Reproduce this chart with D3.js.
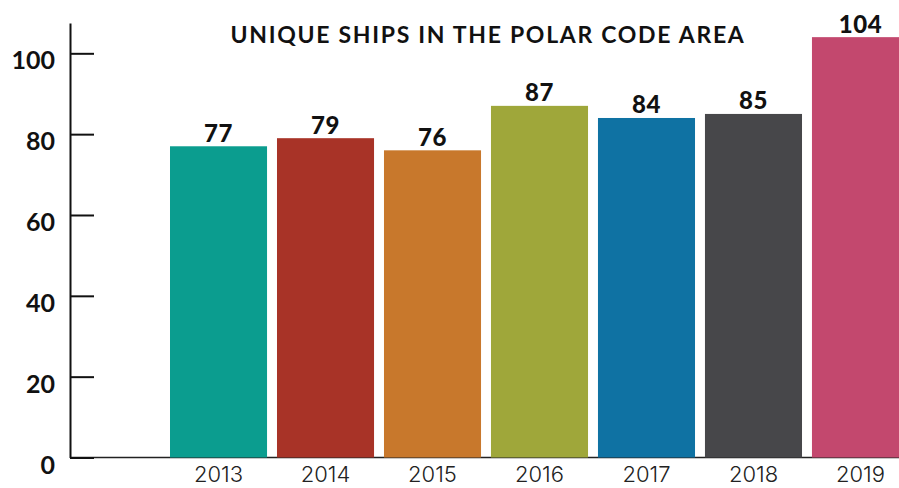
<!DOCTYPE html>
<html>
<head>
<meta charset="utf-8">
<script src="https://cdn.jsdelivr.net/npm/d3@7"></script>
<style>
  html, body { margin: 0; padding: 0; background: #ffffff; }
  svg { display: block; }
</style>
</head>
<body>
<svg id="chart" width="899" height="488"></svg>
<script>
// Unique ships recorded in the Polar Code area, per year
const years = ["2013", "2014", "2015", "2016", "2017", "2018", "2019"];
const shipCounts = [77, 79, 76, 87, 84, 85, 104];
const barColors = ["#0b9d8f", "#a83327", "#c8782c", "#9fa73a", "#0f72a3", "#47474a", "#c3486e"];
const yTicks = [0, 20, 40, 60, 80, 100];
const chartTitle = "UNIQUE SHIPS IN THE POLAR CODE AREA";

const svg = d3.select("#chart");
const W = 899, H = 488;

const axisX = 70;
const baseY = 457.5;

const y = d3.scaleLinear().domain([0, 107.5]).range([baseY, 23]);
const x = d3.scaleBand()
  .domain(years)
  .range([165, 914])
  .paddingInner(0.093)
  .paddingOuter(0.0467);

const data = years.map((yr, i) => ({ year: yr, value: shipCounts[i], color: barColors[i] }));

// x baseline
svg.append("line")
  .attr("x1", axisX).attr("x2", W)
  .attr("y1", baseY).attr("y2", baseY)
  .attr("stroke", "#222").attr("stroke-width", 1.6);

// bars
svg.append("g").selectAll("rect")
  .data(data)
  .join("rect")
  .attr("x", d => x(d.year))
  .attr("y", d => y(d.value))
  .attr("width", x.bandwidth())
  .attr("height", d => baseY - y(d.value))
  .attr("fill", d => d.color);

// value labels
svg.append("g").selectAll("text")
  .data(data)
  .join("text")
  .attr("x", d => x(d.year) + x.bandwidth() / 2)
  .attr("y", d => y(d.value) - 4.5)
  .attr("text-anchor", "middle")
  .attr("font-family", "Lato, sans-serif")
  .attr("font-weight", 900)
  .attr("font-size", 24)
  .attr("letter-spacing", 0.5)
  .attr("fill", "#111")
  .text(d => d.value);

// y axis, ticks pointing into the plot
const yAxis = d3.axisLeft(y)
  .tickValues(yTicks)
  .tickSizeInner(-24)
  .tickSizeOuter(0)
  .tickPadding(15);

const yg = svg.append("g")
  .attr("transform", `translate(${axisX},0)`)
  .call(yAxis);
yg.select(".domain").attr("stroke", "#111").attr("stroke-width", 2);
yg.selectAll(".tick line").attr("stroke", "#111").attr("stroke-width", 2);
yg.selectAll(".tick text")
  .attr("dy", "0.62em")
  .attr("font-family", "Lato, sans-serif")
  .attr("font-weight", 700)
  .attr("font-size", 25)
  .attr("fill", "#111");

// year labels
const xAxis = d3.axisBottom(x).tickSize(0).tickPadding(9);
const xg = svg.append("g")
  .attr("transform", `translate(0,${baseY})`)
  .call(xAxis);
xg.select(".domain").remove();
xg.selectAll(".tick text")
  .attr("font-family", "Inter, sans-serif")
  .attr("font-weight", 300)
  .attr("font-size", 22)
  .attr("fill", "#222");

// title
svg.append("text")
  .attr("x", 488)
  .attr("y", 43)
  .attr("text-anchor", "middle")
  .attr("font-family", "Lato, sans-serif")
  .attr("font-weight", 700)
  .attr("font-size", 23)
  .attr("letter-spacing", 1.7)
  .attr("fill", "#111")
  .text(chartTitle);
</script>
</body>
</html>
